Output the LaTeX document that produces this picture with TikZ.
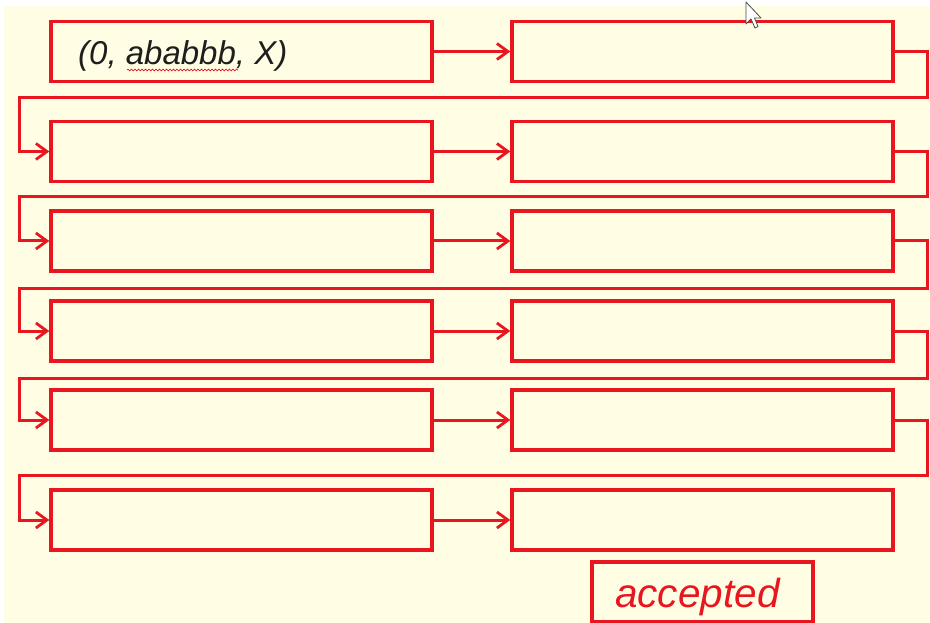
\documentclass[tikz,border=0pt]{standalone}
\usepackage{fontspec}
\setmainfont{Liberation Sans}
\usetikzlibrary{arrows.meta,decorations.pathmorphing}
\definecolor{paper}{HTML}{FFFDE4}
\definecolor{ink}{HTML}{E8161E}
\definecolor{txt}{HTML}{1E1E1E}
\tikzset{
  cell/.style={draw=ink, line width=3.4pt, fill=paper, minimum width=381pt, minimum height=60pt, inner sep=0pt},
  conn/.style={draw=ink, line width=3pt, line join=miter},
  tip/.style={-{Straight Barb[length=11pt,width=16pt,line width=2.8pt]}},
  accbox/.style={draw=ink, line width=3.4pt, fill=paper, minimum width=221pt, minimum height=60pt, inner sep=0pt}
}
\begin{document}
\begin{tikzpicture}[x=1pt,y=-1pt]
\useasboundingbox (0,0) rectangle (930,623);
\fill[white] (0,0) rectangle (930,623);
\fill[paper] (4,6) rectangle (930,623);

% two columns of six state boxes
\foreach \i/\y in {1/51.5, 2/151.5, 3/241, 4/331, 5/420, 6/520} {
  \node[cell] (L\i) at (241.5,\y) {};
  \node[cell] (R\i) at (702.5,\y) {};
  \draw[conn,tip] (L\i.east) -- (R\i.west);
}

% wrap-around points between rows
\foreach \i/\w in {1/98, 2/197, 3/288, 4/378, 5/475} {
  \coordinate (e\i) at (927,\w);
  \coordinate (w\i) at (19,\w);
}
\foreach \i/\j in {1/2, 2/3, 3/4, 4/5, 5/6} {
  \draw[conn,tip] (R\i.east) -| (e\i) -- (w\i) |- (L\j.west);
}

% initial configuration
\node[anchor=base west, inner sep=0pt, text=txt, font=\fontsize{33}{38}\selectfont\itshape] (start) at (78,65) {(0, ababbb, X)};
\draw[ink, line width=0.7pt, decorate, decoration={snake, amplitude=0.9pt, segment length=3.5pt}] (127,70) -- (238,70);

% final verdict
\node[accbox] (acc) at (702.5,592) {};
\node[anchor=base west, inner sep=0pt, text=ink, font=\fontsize{40.5}{46}\selectfont\itshape] (acctext) at (615,607) {accepted};

% mouse pointer
\draw[fill=white, draw=black!70, line width=0.8pt, line join=round]
  (746,2) -- (746,24) -- (751,19) -- (755,28) -- (758,26.5) -- (754.5,18) -- (761,18) -- cycle;
\end{tikzpicture}
\end{document}
